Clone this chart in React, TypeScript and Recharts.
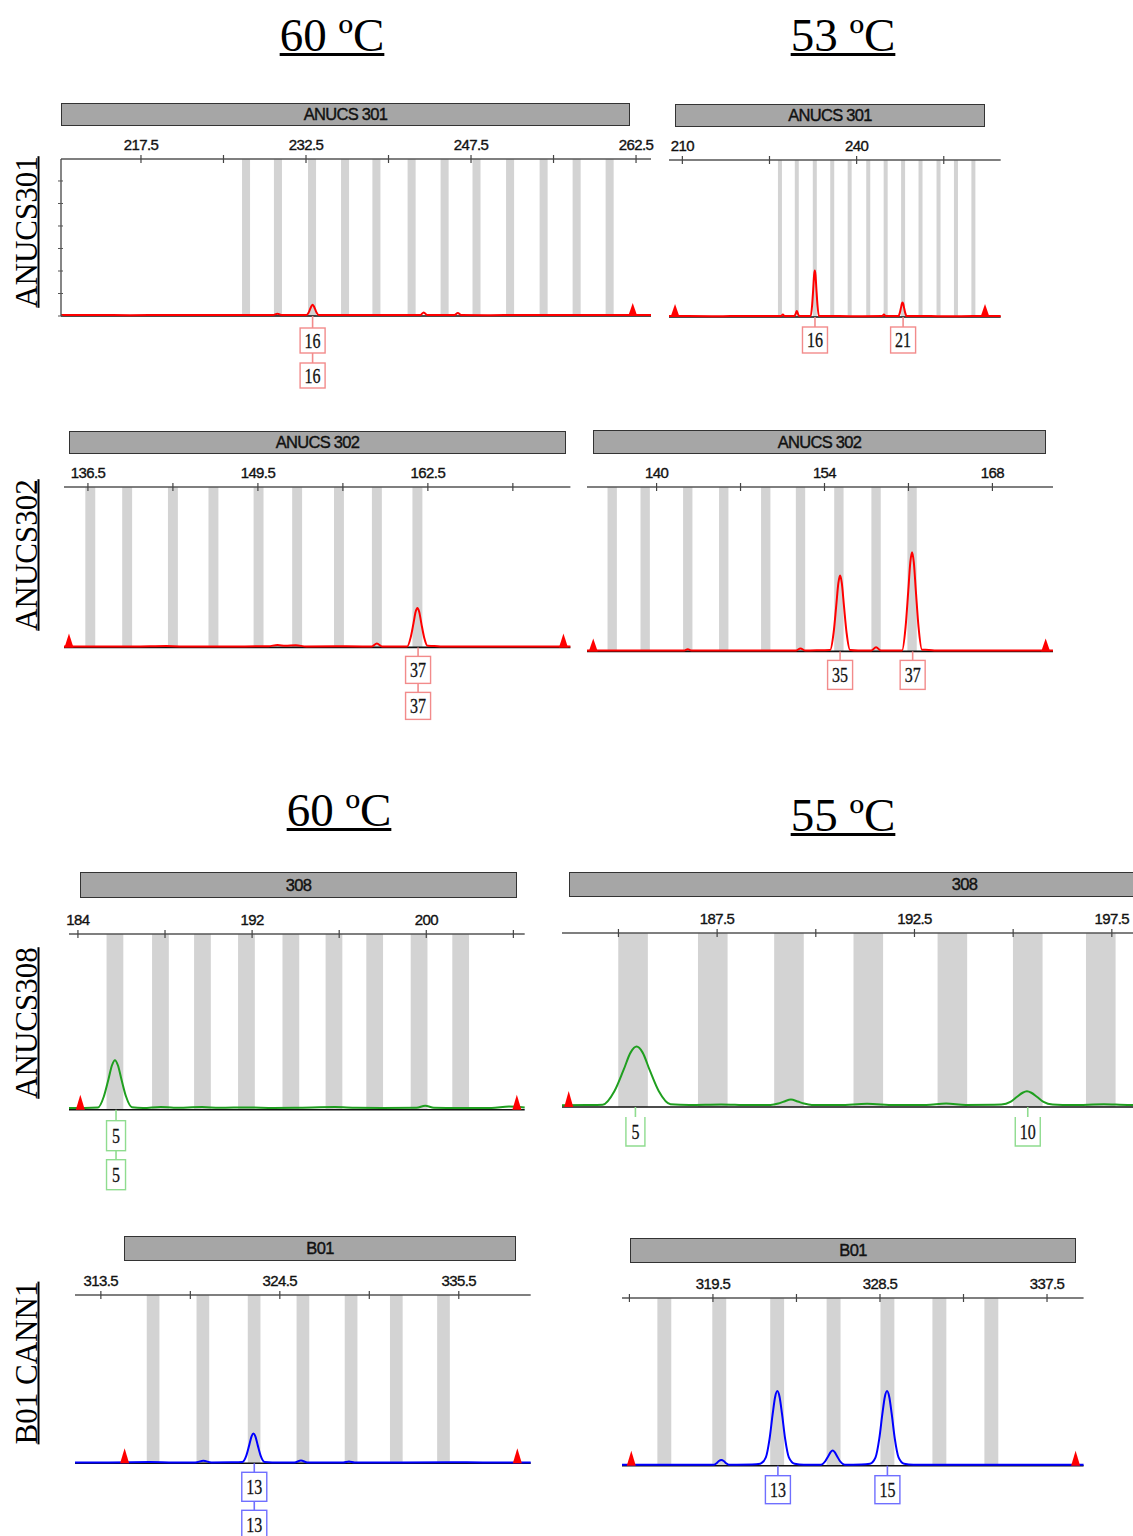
import React from 'react';
import { ComposedChart, Line, Scatter, XAxis, YAxis, ReferenceArea, ReferenceLine } from 'recharts';

// ---------- data: one block per electropherogram panel ----------
// P1 = ANUCS301 @ 60 ºC
const p1Major = [217.5, 232.5, 247.5, 262.5];
const p1Minor = [225, 240, 255];
const p1Bins = [227.05, 229.95, 233.05, 236.05, 238.9, 242.1, 245.1, 248.0, 251.05, 254.1, 257.1, 260.1];
const p1Trace: [number, number][] = [
  [210.23, 0.6], [213, 0.7], [216.5, 0.5], [220, 0.7], [223.5, 0.6], [226.5, 0.6], [229.5, 0.6], [229.9, 1.5],
  [230.3, 0.6], [232.53, 0.6], [232.73, 2.1], [232.88, 4.5], [233.0, 6.4], [233.1, 7.1], [233.2, 6.4], [233.32, 4.5],
  [233.47, 2.1], [233.67, 0.6], [236.5, 0.7], [240, 0.6], [242.9, 0.6], [243.2, 2.3], [243.5, 0.6], [246.0, 0.6],
  [246.3, 1.9], [246.6, 0.6], [249, 0.5], [252, 0.7], [255.5, 0.6], [259, 0.6], [263.86, 0.6],
];
const p1Ladder = [262.2];
const p1Alleles = [{ x: 233.1, label: '16' }];
const p1YTicks = [0, 14.33, 28.66, 43, 57.33, 71.66, 86];

// P2 = ANUCS301 @ 53 ºC
const p2Major = [210, 240];
const p2Minor = [225, 255];
const p2Bins = [226.8, 229.7, 232.8, 235.8, 238.8, 242.0, 245.0, 248.0, 251.0, 254.1, 257.1, 260.1];
const p2Trace: [number, number][] = [
  [207.7, 0.6], [211, 0.6], [215, 0.5], [219, 0.6], [223, 0.6], [227.0, 0.6], [227.3, 1.6], [227.6, 0.6],
  [229.3, 0.6], [229.5, 2.0], [229.7, 3.8], [229.9, 2.0], [230.1, 0.6], [232.1, 0.6], [232.34, 7.6], [232.53, 18],
  [232.68, 26.7], [232.8, 29.6], [232.92, 26.7], [233.07, 18], [233.26, 7.6], [233.5, 0.6], [237, 0.6], [241, 0.5],
  [244.4, 0.6], [244.7, 1.6], [245.0, 0.6], [247.2, 0.6], [247.44, 2.7], [247.63, 5.8], [247.78, 8.4], [247.9, 9.3],
  [248.02, 8.4], [248.17, 5.8], [248.36, 2.7], [248.6, 0.6], [252, 0.6], [256, 0.5], [260, 0.6], [264.8, 0.6],
];
const p2Ladder = [208.74, 262.1];
const p2Alleles = [{ x: 232.83, label: '16' }, { x: 248.0, label: '21' }];

// P3 = ANUCS302 @ 60 ºC
const p3Major = [136.5, 149.5, 162.5];
const p3Minor = [143, 156, 169];
const p3Bins = [136.68, 139.5, 143.0, 146.1, 149.55, 152.5, 155.7, 158.6, 161.7];
const p3Trace: [number, number][] = [
  [134.67, 0.6], [137.5, 0.6], [140, 0.5], [142.5, 0.8], [143.5, 0.6], [146, 0.6], [148.5, 0.6], [150.3, 0.7],
  [151, 1.5], [151.6, 1.0], [152.4, 1.3], [153.2, 0.6], [155.5, 0.7], [157.5, 0.6], [158.2, 0.6], [158.6, 2.5],
  [159.0, 0.6], [160.92, 0.6], [161.19, 6.4], [161.4, 15], [161.565, 22.2], [161.7, 24.6], [161.835, 22.2],
  [162.0, 15], [162.21, 6.4], [162.48, 1.0], [163, 0.9], [163.6, 0.6], [166, 0.5], [169, 0.6], [173.4, 0.6],
];
const p3Ladder = [135.05, 172.87];
const p3Alleles = [{ x: 161.75, label: '37' }];

// P4 = ANUCS302 @ 53 ºC
const p4Major = [140, 154, 168];
const p4Minor = [147, 161];
const p4Bins = [136.3, 139.05, 142.6, 145.6, 149.1, 152.0, 155.2, 158.3, 161.3];
const p4Trace: [number, number][] = [
  [134.2, 0.5], [137, 0.5], [140, 0.6], [142.3, 0.5], [142.6, 1.3], [142.9, 0.5], [145.5, 0.6], [148, 0.5],
  [151.6, 0.5], [152.0, 1.8], [152.4, 0.5], [153.8, 0.7], [154.47, 0.8], [154.76, 11.4], [154.98, 27.9],
  [155.156, 41.5], [155.3, 46.1], [155.444, 41.5], [155.62, 27.9], [155.84, 11.4], [156.13, 0.8], [156.8, 0.5],
  [157.9, 0.5], [158.3, 2.5], [158.7, 0.5], [160.47, 0.6], [160.76, 14.9], [160.98, 36.4], [161.156, 54.3],
  [161.3, 60.3], [161.444, 54.3], [161.62, 36.4], [161.84, 14.9], [162.13, 1.0], [162.7, 0.9], [163.3, 0.5],
  [166, 0.5], [169, 0.6], [173.05, 0.5],
];
const p4Ladder = [134.72, 172.44];
const p4Alleles = [{ x: 155.3, label: '35' }, { x: 161.35, label: '37' }];

// P5 = ANUCS308 @ 60 ºC
const p5Major = [184, 192, 200];
const p5Minor = [188, 196, 204];
const p5Bins = [185.7, 187.79, 189.72, 191.74, 193.78, 195.76, 197.63, 199.67, 201.58];
const p5Trace: [number, number][] = [
  [183.59, 1.0], [184.3, 1.0], [184.92, 1.2], [185.19, 7.5], [185.4, 17.2], [185.565, 25.3], [185.7, 28.2],
  [185.835, 25.3], [186.0, 17.2], [186.21, 7.5], [186.48, 1.4], [187, 1.0], [187.8, 1.6], [188.4, 1.1],
  [189.7, 1.5], [190.5, 1.1], [191.8, 1.3], [193, 1.0], [194, 1.1], [195.8, 1.5], [196.8, 1.1], [198, 1.0],
  [199.55, 1.1], [199.95, 2.2], [200.35, 1.1], [201.5, 0.9], [203, 1.0], [203.8, 1.8], [204.52, 1.2],
];
const p5Ladder = [184.11, 204.16];
const p5Alleles = [{ x: 185.75, label: '5' }];

// P6 = ANUCS308 @ 55 ºC
const p6Major = [187.5, 192.5, 197.5];
const p6Minor = [185, 190, 195];
const p6Bins = [185.37, 187.39, 189.32, 191.33, 193.46, 195.37, 197.22];
const p6Trace: [number, number][] = [
  [183.57, 1.0], [184.2, 1.1], [184.6, 1.3], [184.9, 9.2], [185.13, 21.3], [185.31, 31.4], [185.46, 34.7],
  [185.61, 31.4], [185.79, 21.3], [186.02, 9.2], [186.32, 1.6], [186.8, 1.2], [187.6, 1.5], [188.3, 1.1],
  [188.85, 1.2], [189.05, 2.0], [189.2, 3.2], [189.37, 4.3], [189.54, 3.2], [189.7, 2.0], [189.9, 1.2],
  [190.6, 1.1], [191.3, 1.8], [192.0, 1.1], [192.8, 1.2], [193.3, 2.0], [193.8, 1.2], [194.5, 1.3], [194.7, 1.4],
  [194.93, 2.9], [195.1, 5.9], [195.24, 8.2], [195.35, 9.0], [195.46, 8.2], [195.6, 5.9], [195.77, 2.9],
  [196.0, 1.4], [196.5, 1.1], [197.3, 1.6], [197.9, 1.2], [198.33, 1.2],
];
const p6Ladder = [183.74];
const p6Alleles = [{ x: 185.43, label: '5' }, { x: 195.37, label: '10' }];

// P7 = B01 CANN1 @ 60 ºC
const p7Major = [313.5, 324.5, 335.5];
const p7Minor = [319, 330];
const p7Bins = [316.71, 319.77, 322.92, 325.92, 328.88, 331.66, 334.56];
const p7Trace: [number, number][] = [
  [311.91, 0.5], [314, 0.5], [316.5, 0.7], [318, 0.5], [319.3, 0.5], [319.8, 1.5], [320.3, 0.5], [321.5, 0.6],
  [322.2, 0.8], [322.44, 4.6], [322.62, 10.8], [322.763, 16], [322.88, 17.7], [322.997, 16], [323.14, 10.8],
  [323.32, 4.6], [323.56, 0.8], [324.5, 0.5], [325.4, 0.5], [325.8, 1.6], [326.2, 0.5], [328.4, 0.5],
  [328.75, 1.1], [329.1, 0.5], [332, 0.5], [335, 0.6], [337, 0.5], [339.92, 0.5],
];
const p7Ladder = [314.96, 339.1];
const p7Alleles = [{ x: 322.93, label: '13' }];

// P8 = B01 CANN1 @ 55 ºC
const p8Major = [319.5, 328.5, 337.5];
const p8Minor = [315, 324, 333];
const p8Bins = [316.88, 319.84, 322.96, 326.0, 328.9, 331.7, 334.5];
const p8Trace: [number, number][] = [
  [314.6, 0.5], [317, 0.6], [318.5, 0.5], [319.55, 0.6], [319.7, 1.5], [319.82, 2.8], [319.95, 3.4],
  [320.08, 2.8], [320.2, 1.5], [320.35, 0.6], [321.6, 0.7], [322.05, 1.2], [322.35, 5], [322.55, 16],
  [322.72, 31], [322.85, 41], [322.97, 44.5], [323.09, 41], [323.22, 31], [323.39, 16], [323.59, 5],
  [323.9, 1.2], [324.4, 0.6], [325.33, 0.6], [325.54, 2.5], [325.71, 5.6], [325.84, 8.1], [325.95, 9.0],
  [326.06, 8.1], [326.19, 5.6], [326.36, 2.5], [326.6, 0.6], [327.5, 0.7], [327.96, 1.2], [328.26, 5],
  [328.46, 16], [328.63, 31], [328.76, 41], [328.88, 44.5], [329.0, 41], [329.13, 31], [329.3, 16],
  [329.5, 5], [329.8, 1.2], [330.3, 0.6], [333, 0.5], [336, 0.6], [339.47, 0.5],
];
const p8Ladder = [315.1, 339.04];
const p8Alleles = [{ x: 323.0, label: '13' }, { x: 328.9, label: '15' }];

// ---------- styling / layout ----------
const RED = '#ff0000';
const GREEN = '#1f9f1f';
const BLUE = '#0000ff';
const SANS = '"Liberation Sans", Arial, sans-serif';
const SERIF = '"Liberation Serif", "Times New Roman", serif';

interface PanelCfg {
  title: string;
  header: [number, number, number, number];
  axisLeft: number;
  axisRight: number;
  axisY: number;
  baseY: number;
  domain: [number, number];
  major: number[];
  minor: number[];
  bins: number[];
  binW: number;
  trace: [number, number][];
  ladder: number[];
  alleles: { x: number; label: string }[];
  color: string;
  boxColor: string;
  rows: number;
  gap: number;
  boxH: number;
  between: number;
  triH: number;
  openTop?: boolean;
  yTicks?: number[];
}

const panels: PanelCfg[] = [
  {
    title: 'ANUCS 301', header: [61, 103, 630, 126], axisLeft: 61, axisRight: 651, axisY: 159, baseY: 316,
    domain: [210.23, 263.86], major: p1Major, minor: p1Minor, bins: p1Bins, binW: 0.73, trace: p1Trace,
    ladder: p1Ladder, alleles: p1Alleles, color: RED, boxColor: '#f28b8b', rows: 2, gap: 12, boxH: 25,
    between: 10, triH: 13, yTicks: p1YTicks,
  },
  {
    title: 'ANUCS 301', header: [675, 104, 985, 127], axisLeft: 669, axisRight: 1000.7, axisY: 160, baseY: 317,
    domain: [207.7, 264.8], major: p2Major, minor: p2Minor, bins: p2Bins, binW: 0.69, trace: p2Trace,
    ladder: p2Ladder, alleles: p2Alleles, color: RED, boxColor: '#f28b8b', rows: 1, gap: 10, boxH: 26,
    between: 0, triH: 13,
  },
  {
    title: 'ANUCS 302', header: [69, 431, 566, 454], axisLeft: 64.3, axisRight: 570.7, axisY: 487.3, baseY: 647.7,
    domain: [134.67, 173.4], major: p3Major, minor: p3Minor, bins: p3Bins, binW: 0.76, trace: p3Trace,
    ladder: p3Ladder, alleles: p3Alleles, color: RED, boxColor: '#f28b8b', rows: 2, gap: 9, boxH: 27,
    between: 9, triH: 14,
  },
  {
    title: 'ANUCS 302', header: [593, 430, 1046, 454], axisLeft: 587.3, axisRight: 1053.3, axisY: 487.3, baseY: 651.7,
    domain: [134.2, 173.05], major: p4Major, minor: p4Minor, bins: p4Bins, binW: 0.78, trace: p4Trace,
    ladder: p4Ladder, alleles: p4Alleles, color: RED, boxColor: '#f28b8b', rows: 1, gap: 9, boxH: 29,
    between: 0, triH: 13,
  },
  {
    title: '308', header: [80, 872, 517, 898], axisLeft: 69.3, axisRight: 525, axisY: 934.3, baseY: 1110,
    domain: [183.59, 204.52], major: p5Major, minor: p5Minor, bins: p5Bins, binW: 0.77, trace: p5Trace,
    ladder: p5Ladder, alleles: p5Alleles, color: GREEN, boxColor: '#8fdc8f', rows: 2, gap: 11, boxH: 30,
    between: 9, triH: 15,
  },
  {
    title: '308', header: [569, 872, 1360, 897], axisLeft: 562.4, axisRight: 1145, axisY: 933.3, baseY: 1107.3,
    domain: [183.57, 198.33], major: p6Major, minor: p6Minor, bins: p6Bins, binW: 0.75, trace: p6Trace,
    ladder: p6Ladder, alleles: p6Alleles, color: GREEN, boxColor: '#8fdc8f', rows: 1, gap: 10, boxH: 29,
    between: 0, triH: 16, openTop: true,
  },
  {
    title: 'B01', header: [124, 1236, 516, 1261], axisLeft: 75, axisRight: 530.7, axisY: 1295, baseY: 1463.3,
    domain: [311.91, 339.92], major: p7Major, minor: p7Minor, bins: p7Bins, binW: 0.78, trace: p7Trace,
    ladder: p7Ladder, alleles: p7Alleles, color: BLUE, boxColor: '#6f6fff', rows: 2, gap: 9, boxH: 29,
    between: 9, triH: 15,
  },
  {
    title: 'B01', header: [630, 1238, 1076, 1263], axisLeft: 621.7, axisRight: 1083.3, axisY: 1298.3, baseY: 1466,
    domain: [314.6, 339.47], major: p8Major, minor: p8Minor, bins: p8Bins, binW: 0.75, trace: p8Trace,
    ladder: p8Ladder, alleles: p8Alleles, color: BLUE, boxColor: '#6f6fff', rows: 1, gap: 10, boxH: 28,
    between: 0, triH: 15,
  },
];

const titles = [
  { text: '60 ºC', cx: 332, top: 12 },
  { text: '53 ºC', cx: 843, top: 12 },
  { text: '60 ºC', cx: 339, top: 787 },
  { text: '55 ºC', cx: 843, top: 792 },
];

const rowLabels = [
  { text: 'ANUCS301', cy: 231.5 },
  { text: 'ANUCS302', cy: 555 },
  { text: 'ANUCS308', cy: 1022.5 },
  { text: 'B01 CANN1', cy: 1362.5 },
];

function TopTick(props: any) {
  const { x, y, payload, major } = props;
  const v = payload.value;
  return (
    <g>
      <line x1={x} x2={x} y1={y - 4} y2={y + 4} stroke="#444" strokeWidth={1.2} />
      {major.includes(v) && (
        <text x={x} y={y - 9} textAnchor="middle" fontFamily={SANS} fontSize={15} fill="#111"
          stroke="#111" strokeWidth={0.35} style={{ letterSpacing: '-0.6px' }}>
          {v}
        </text>
      )}
    </g>
  );
}

function LeftTick(props: any) {
  const { x, y } = props;
  return <line x1={x - 3} x2={x + 2} y1={y} y2={y} stroke="#555" strokeWidth={1} />;
}

function Panel({ p }: { p: PanelCfg }) {
  const padX = 14;
  const yw = p.yTicks ? 6 : 0;
  const topH = 30;
  const bottomH = 90;
  const plotH = p.baseY - p.axisY;
  const width = p.axisRight - p.axisLeft + padX * 2;
  const height = topH + plotH + bottomH;
  const traceData = p.trace.map(([x, y]) => ({ x, y }));
  const ladderData = p.ladder.map((x) => ({ x, y: 0 }));
  const alleleData = p.alleles.map((a) => ({ x: a.x, y: 0, label: a.label }));

  const triangle = (props: any) => {
    const { cx, cy } = props;
    const hw = 4.5;
    return <polygon points={`${cx - hw},${cy} ${cx + hw},${cy} ${cx},${cy - p.triH}`} fill={RED} />;
  };

  const alleleBox = (props: any) => {
    const { cx, cy, payload } = props;
    const label = String(payload.label);
    const bw = 13 + 6 * label.length;
    const parts: React.ReactNode[] = [];
    let prev = cy;
    let top = cy + p.gap;
    for (let r = 0; r < p.rows; r++) {
      parts.push(<line key={`c${r}`} x1={cx} x2={cx} y1={prev} y2={top} stroke={p.boxColor} strokeWidth={1.6} />);
      if (p.openTop) {
        parts.push(
          <polyline key={`b${r}`} points={`${cx - bw / 2},${top} ${cx - bw / 2},${top + p.boxH} ${cx + bw / 2},${top + p.boxH} ${cx + bw / 2},${top}`}
            fill="#fff" stroke={p.boxColor} strokeWidth={1.4} />
        );
      } else {
        parts.push(
          <rect key={`b${r}`} x={cx - bw / 2} y={top} width={bw} height={p.boxH} fill="#fff" stroke={p.boxColor} strokeWidth={1.4} />
        );
      }
      parts.push(
        <text key={`t${r}`} x={cx} y={top + p.boxH / 2 + 7.5} textAnchor="middle" fontFamily={SERIF} fontSize={22}
          fill="#111" stroke="#111" strokeWidth={0.3} textLength={label.length * 8} lengthAdjust="spacingAndGlyphs">
          {label}
        </text>
      );
      prev = top + p.boxH;
      top = prev + p.between;
    }
    return <g>{parts}</g>;
  };

  return (
    <div style={{ position: 'absolute', left: p.axisLeft - padX, top: p.axisY - topH }}>
      <ComposedChart width={width} height={height} margin={{ top: 0, right: padX, bottom: bottomH, left: padX - yw }}>
        <XAxis type="number" dataKey="x" orientation="top" domain={p.domain} ticks={[...p.major, ...p.minor].sort((a, b) => a - b)}
          interval={0} height={topH} tickSize={0} tickMargin={0} tickLine={false}
          axisLine={{ stroke: '#555', strokeWidth: 1.3 }} tick={(t: any) => <TopTick {...t} major={p.major} />} />
        {p.yTicks ? (
          <YAxis type="number" dataKey="y" domain={[0, 100]} width={yw} ticks={p.yTicks} interval={0} tickSize={0}
            tickMargin={0} tickLine={false} axisLine={{ stroke: '#444', strokeWidth: 1.3 }}
            tick={(t: any) => <LeftTick {...t} />} />
        ) : (
          <YAxis type="number" dataKey="y" domain={[0, 100]} hide />
        )}
        {p.bins.map((c) => (
          <ReferenceArea key={c} x1={c - p.binW / 2} x2={c + p.binW / 2} y1={0} y2={100} fill="#d3d3d3" fillOpacity={1} stroke="none" />
        ))}
        <ReferenceLine y={0} stroke="#111" strokeWidth={1.6} />
        <Line data={traceData} dataKey="y" type="monotone" stroke={p.color} strokeWidth={2} dot={false}
          isAnimationActive={false} />
        <Scatter data={ladderData} dataKey="y" shape={triangle} isAnimationActive={false} />
        <Scatter data={alleleData} dataKey="y" shape={alleleBox} isAnimationActive={false} />
      </ComposedChart>
    </div>
  );
}

export default function App() {
  return (
    <div style={{ position: 'absolute', left: 0, top: 0, width: 1133, height: 1536, overflow: 'hidden', background: '#fff' }}>
      {titles.map((t, i) => (
        <div key={i} style={{
          position: 'absolute', left: t.cx, top: t.top, transform: 'translateX(-50%)', fontFamily: SERIF,
          fontSize: 47, lineHeight: 1, whiteSpace: 'nowrap', color: '#000', textDecoration: 'underline',
          textDecorationThickness: '2.5px', textUnderlineOffset: '2px',
        }}>{t.text}</div>
      ))}
      {rowLabels.map((r, i) => (
        <div key={i} style={{
          position: 'absolute', left: 26, top: r.cy, transform: 'translate(-50%, -50%) rotate(-90deg)',
          fontFamily: SERIF, fontSize: 31, lineHeight: 1, whiteSpace: 'nowrap', color: '#000',
          textDecoration: 'underline', textDecorationThickness: '2px',
        }}>{r.text}</div>
      ))}
      {panels.map((p, i) => (
        <div key={`h${i}`} style={{
          position: 'absolute', left: p.header[0], top: p.header[1], width: p.header[2] - p.header[0],
          height: p.header[3] - p.header[1], background: '#a6a6a6', border: '1.5px solid #333', boxSizing: 'border-box',
          display: 'flex', alignItems: 'center', justifyContent: 'center', fontFamily: SANS, fontSize: 16.5,
          letterSpacing: '-0.7px', color: '#111', WebkitTextStroke: '0.4px #111',
        }}>{p.title}</div>
      ))}
      {panels.map((p, i) => (
        <Panel key={i} p={p} />
      ))}
    </div>
  );
}
